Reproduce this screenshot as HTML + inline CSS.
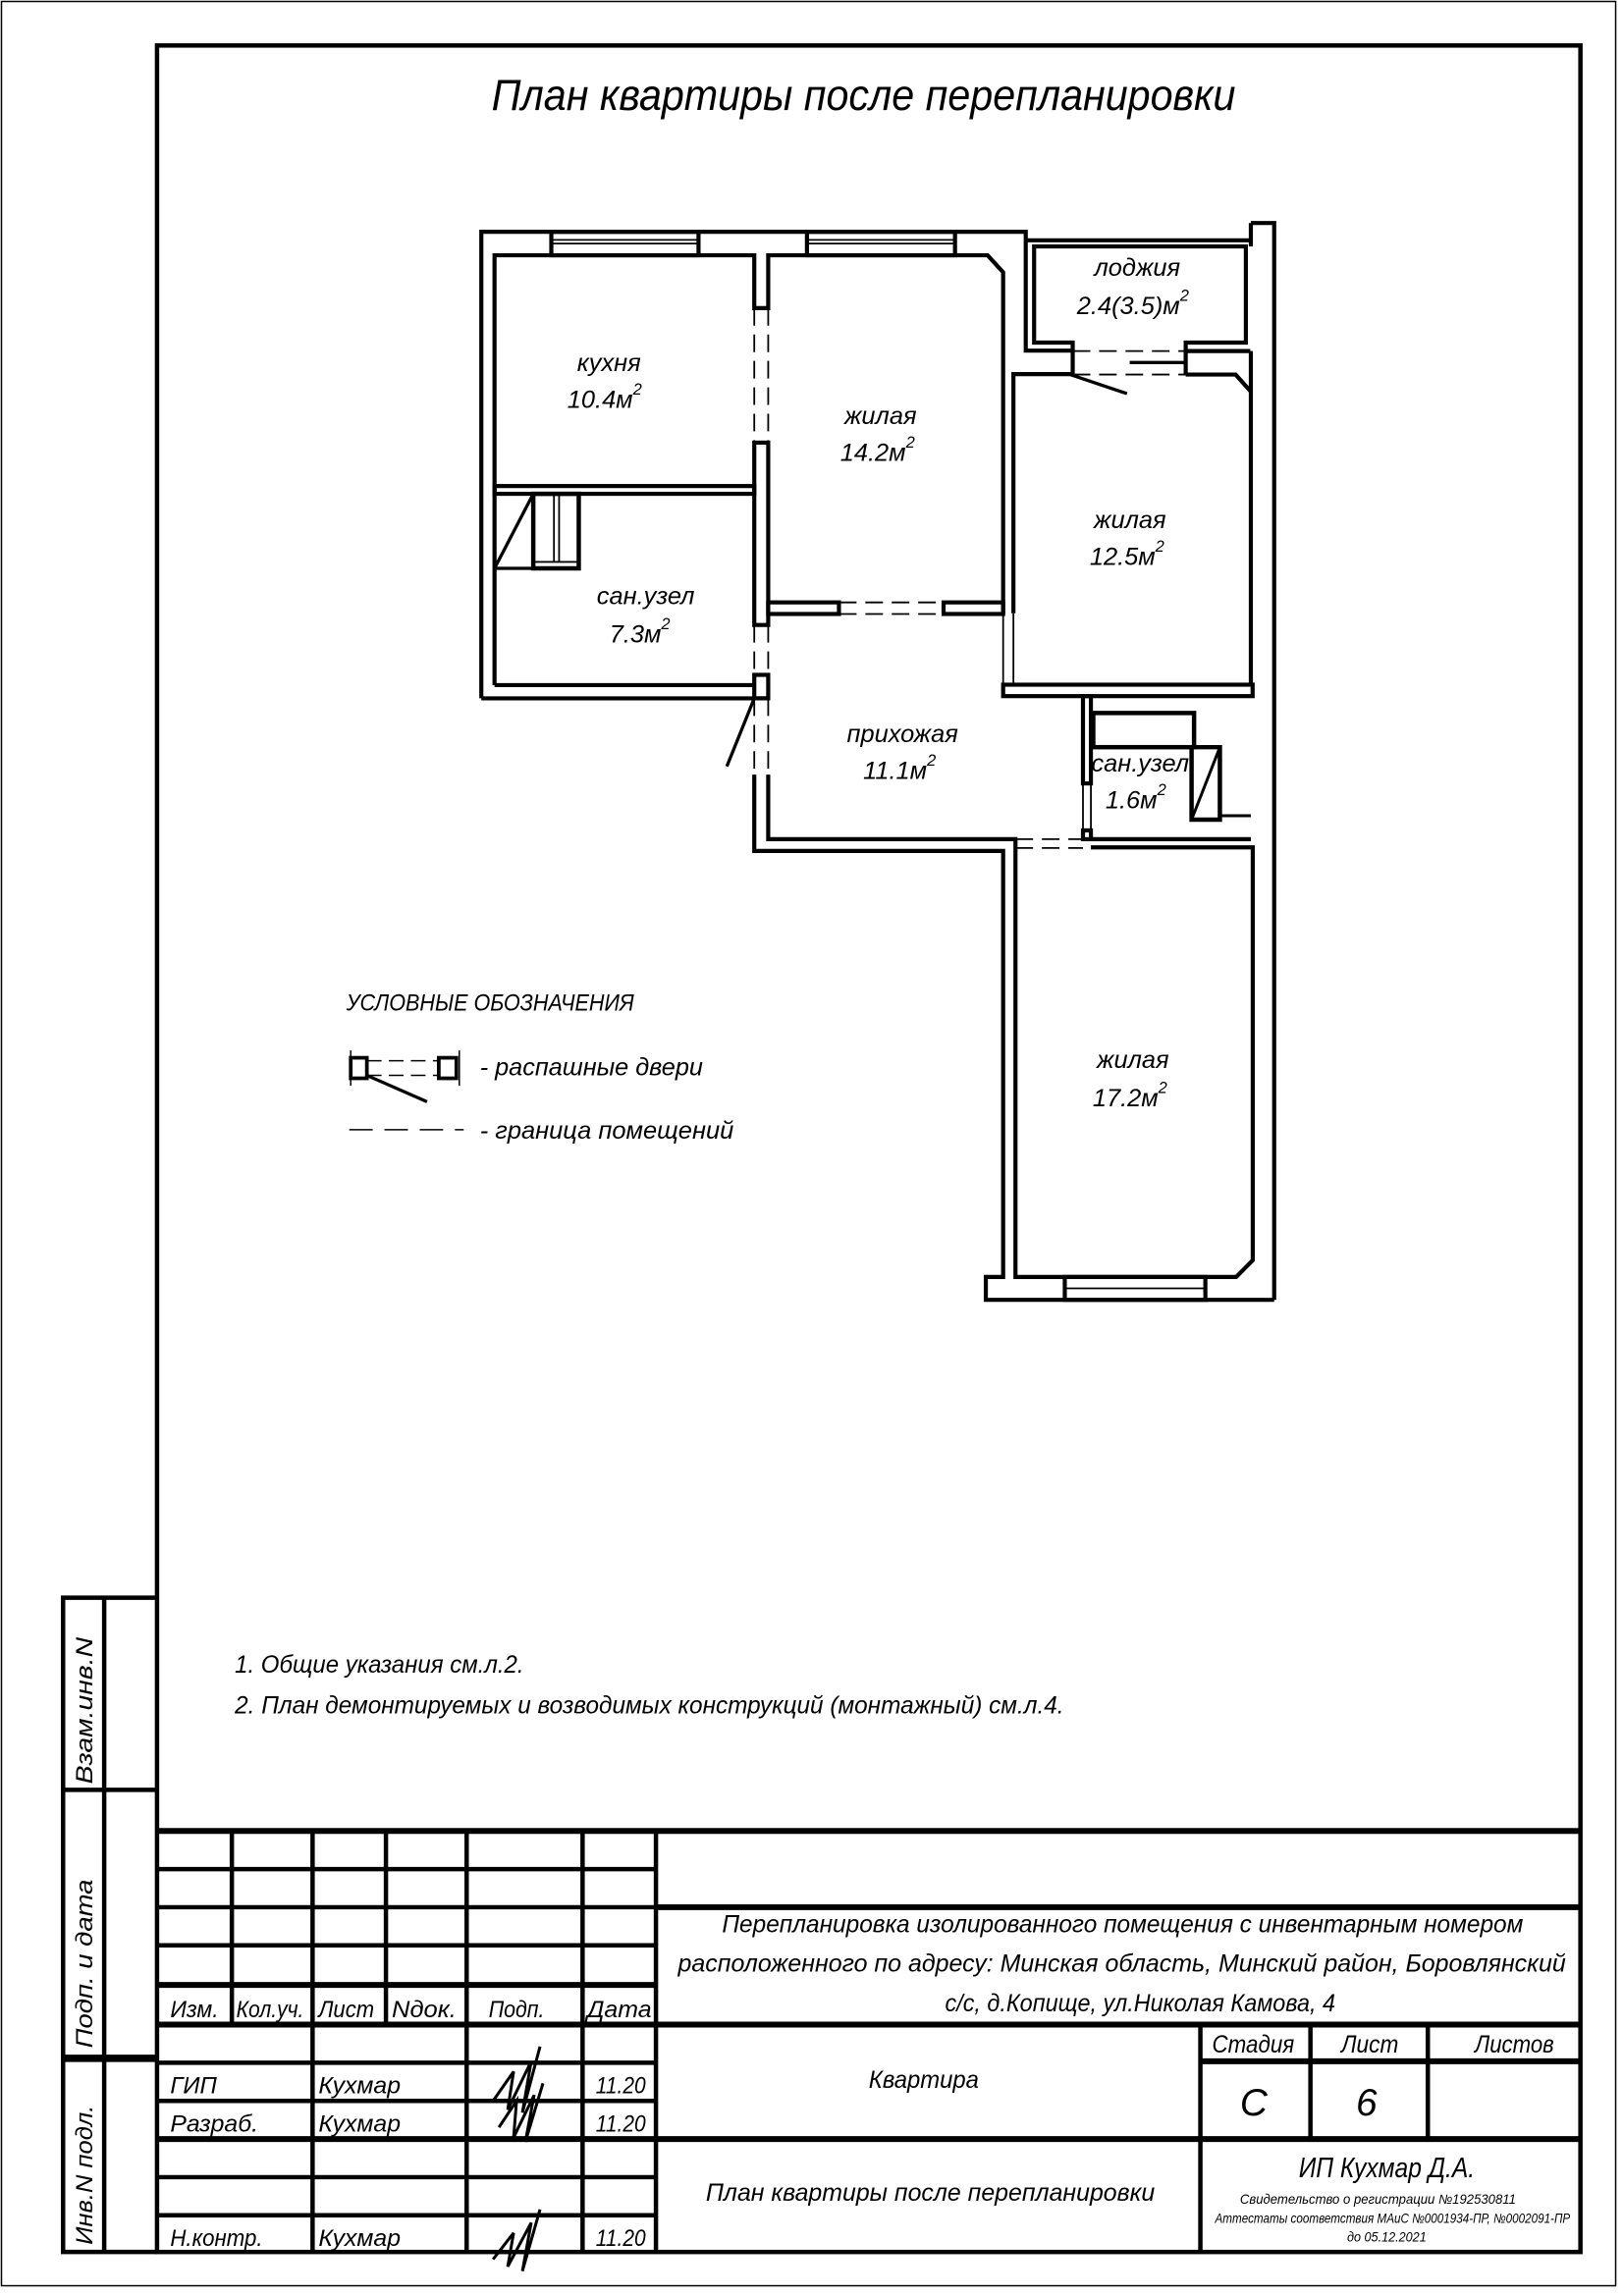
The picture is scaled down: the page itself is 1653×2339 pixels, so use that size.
<!DOCTYPE html>
<html><head><meta charset="utf-8"><style>
html,body{margin:0;padding:0;background:#fff}
svg{display:block}
text{font-family:"Liberation Sans Narrow","Liberation Sans","DejaVu Sans",sans-serif;font-style:italic;fill:#000}
</style></head><body>
<svg width="1653" height="2339" viewBox="0 0 1106 1565" preserveAspectRatio="none" xmlns="http://www.w3.org/2000/svg">
<rect x="0" y="0" width="1106" height="1565" fill="#fff"/>
<rect x="1" y="1" width="1100" height="1557" fill="none" stroke="#000" stroke-width="1"/>
<rect x="107" y="31" width="970" height="1504" fill="none" stroke="#000" stroke-width="3"/>
<g stroke="#000" stroke-width="3" fill="none">
<polyline points="107,1089 43,1089 43,1535 107,1535"/>
<line x1="71" y1="1089" x2="71" y2="1535"/>
<line x1="43" y1="1220" x2="107" y2="1220"/>
<line x1="43" y1="1403" x2="107" y2="1403" stroke-width="5"/>
</g>
<text transform="translate(63,1216) rotate(-90)" font-size="16" textLength="100" lengthAdjust="spacingAndGlyphs">Взам.инв.N</text>
<text transform="translate(63,1396) rotate(-90)" font-size="16" textLength="115" lengthAdjust="spacingAndGlyphs">Подп.  и  дата</text>
<text transform="translate(63,1530) rotate(-90)" font-size="16" textLength="95" lengthAdjust="spacingAndGlyphs">Инв.N подл.</text>

<text x="335" y="75" font-size="30" textLength="507" lengthAdjust="spacingAndGlyphs">План квартиры после перепланировки</text>

<g stroke="#000" stroke-width="2.8" fill="none" stroke-linejoin="miter">
<polyline points="328,476 328,158 699,158 699,239 731,239 731,255 690.6,255 690.6,418"/>
<polyline points="337,467 337,174 514,174 514,210 523.5,210 523.5,174 673,174 683.6,185.6 683.6,418"/>
<rect x="375.7" y="158" width="100.3" height="16"/>
<rect x="549.9" y="158" width="100.9" height="16"/>
</g>
<g stroke="#000" stroke-width="1.2">
<line x1="375.7" y1="163.5" x2="476" y2="163.5"/><line x1="375.7" y1="166" x2="476" y2="166"/>
<line x1="549.9" y1="163.5" x2="650.8" y2="163.5"/><line x1="549.9" y1="166" x2="650.8" y2="166"/>
</g>
<g stroke="#000" stroke-width="2.8" fill="none">
<polyline points="699,163.8 852,163.8"/>
<polyline points="731,239 731,233.5 704.7,233.5 704.7,168 849,168 849,233.5 808,233.5 808,255.3"/>
<polyline points="808,239.3 852,239.3"/>
<polyline points="852.4,152 868.3,152 868.3,886"/>
<polyline points="852.4,152 852.4,168"/>
<polyline points="852.4,239.3 852.4,466.7"/>
<polyline points="808,255.3 842,255.3 852.4,266.9"/>
<rect x="514" y="301.7" width="9.5" height="124.3"/>
<rect x="514" y="460" width="9.5" height="16"/>
<rect x="337" y="331.3" width="177" height="5.3"/>
<polyline points="337,467 514,467"/>
<polyline points="328,476 523.5,476"/>
<rect x="523.5" y="410.6" width="48.2" height="7.9"/>
<rect x="643" y="410.6" width="40.6" height="7.9"/>
<rect x="683.6" y="466.7" width="170" height="7.8"/>
<polyline points="523.5,528 523.5,572 692,572 692,870.4 842.4,870.4 853.7,859 853.7,577.6 743.4,577.6"/>
<polyline points="514,528 514,580 683.6,580 683.6,870.4 671.8,870.4 671.8,886 868.3,886"/>
<polyline points="743.4,572 852.4,572"/>
<rect x="738" y="474.5" width="5.4" height="59.5"/>
<rect x="738" y="566" width="5.4" height="6"/>
<rect x="725.6" y="870.4" width="95.8" height="15.6"/>
</g>
<g stroke="#000" stroke-width="1.2">
<line x1="725.6" y1="878.2" x2="821.4" y2="878.2"/>
<line x1="683.6" y1="418" x2="683.6" y2="467"/><line x1="690.6" y1="418" x2="690.6" y2="467"/>
<line x1="738" y1="534" x2="738" y2="566"/><line x1="743.4" y1="534" x2="743.4" y2="566"/>
</g>
<g stroke="#000" stroke-width="1.2" stroke-dasharray="12,6">
<line x1="514" y1="210" x2="514" y2="301.7"/><line x1="523.5" y1="210" x2="523.5" y2="301.7"/>
<line x1="514" y1="426" x2="514" y2="460"/><line x1="523.5" y1="426" x2="523.5" y2="460"/>
<line x1="514" y1="476" x2="514" y2="528"/><line x1="523.5" y1="476" x2="523.5" y2="528"/>
<line x1="571.7" y1="410.6" x2="643" y2="410.6"/><line x1="571.7" y1="418.5" x2="643" y2="418.5"/>
<line x1="731" y1="239.3" x2="808" y2="239.3"/><line x1="731" y1="255.3" x2="808" y2="255.3"/>
<line x1="692" y1="572" x2="738" y2="572"/><line x1="692" y1="578" x2="738" y2="578"/>
</g>
<g stroke="#000" stroke-width="2.2">
<line x1="514" y1="476" x2="495.3" y2="522.4"/>
<line x1="729.3" y1="255.3" x2="768" y2="268.3"/>
<line x1="769.8" y1="247.1" x2="808" y2="247.1"/>
</g>
<g stroke="#000" stroke-width="2.2" fill="none">
<rect x="337" y="336.6" width="26.4" height="50.8"/>
<line x1="337" y1="387.4" x2="363.4" y2="336.6"/>
<rect x="363.4" y="336.6" width="31" height="50.8" stroke-width="3"/>
<line x1="377.5" y1="336.6" x2="377.5" y2="383" stroke-width="1.2"/>
<line x1="381" y1="336.6" x2="381" y2="383" stroke-width="1.2"/>
<line x1="363.4" y1="383" x2="394.4" y2="383" stroke-width="1.2"/>
</g>
<g stroke="#000" stroke-width="3" fill="none">
<rect x="745" y="486" width="68.7" height="23.3"/>
<polyline points="812,509.3 831.3,509.3 831.3,558.7 812,558.7 812,509.3"/>
<line x1="812" y1="558.7" x2="831.3" y2="509.3" stroke-width="2"/>
<line x1="831.3" y1="556" x2="852.4" y2="556" stroke-width="2"/>
</g>

<g font-size="17" text-anchor="middle">
<text x="415" y="253">кухня</text><text x="412" y="278">10.4м<tspan font-size="11" dy="-9">2</tspan></text>
<text x="600" y="289">жилая</text><text x="598" y="314">14.2м<tspan font-size="11" dy="-9">2</tspan></text>
<text x="775" y="188">лоджия</text><text x="772" y="214">2.4(3.5)м<tspan font-size="11" dy="-9">2</tspan></text>
<text x="770" y="360">жилая</text><text x="768" y="385">12.5м<tspan font-size="11" dy="-9">2</tspan></text>
<text x="440" y="412">сан.узел</text><text x="436" y="438">7.3м<tspan font-size="11" dy="-9">2</tspan></text>
<text x="615" y="506">прихожая</text><text x="613" y="531">11.1м<tspan font-size="11" dy="-9">2</tspan></text>
<text x="777" y="526">сан.узел</text><text x="774" y="551">1.6м<tspan font-size="11" dy="-9">2</tspan></text>
<text x="772" y="728">жилая</text><text x="770" y="754">17.2м<tspan font-size="11" dy="-9">2</tspan></text>
</g>

<text x="236" y="689" font-size="16" textLength="196" lengthAdjust="spacingAndGlyphs">УСЛОВНЫЕ  ОБОЗНАЧЕНИЯ</text>
<g stroke="#000" fill="none">
<line x1="239" y1="716" x2="239" y2="740" stroke-width="1"/>
<line x1="313" y1="716" x2="313" y2="740" stroke-width="1"/>
<rect x="239" y="721" width="11" height="14" stroke-width="2.5"/>
<rect x="299" y="721" width="12" height="14" stroke-width="2.5"/>
<line x1="250" y1="723" x2="299" y2="723" stroke-width="1" stroke-dasharray="10,5"/>
<line x1="250" y1="733" x2="299" y2="733" stroke-width="1" stroke-dasharray="10,5"/>
<line x1="250" y1="733" x2="291" y2="751" stroke-width="2.2"/>
<line x1="238" y1="770" x2="316" y2="770" stroke-width="1" stroke-dasharray="16,8"/>
</g>
<text x="327" y="733" font-size="17" textLength="152" lengthAdjust="spacingAndGlyphs">-  распашные  двери</text>
<text x="327" y="776" font-size="17" textLength="173" lengthAdjust="spacingAndGlyphs">-  граница  помещений</text>

<text x="160" y="1140" font-size="17" textLength="197" lengthAdjust="spacingAndGlyphs">1.  Общие  указания  см.л.2.</text>
<text x="160" y="1168" font-size="17" textLength="565" lengthAdjust="spacingAndGlyphs">2.  План  демонтируемых  и  возводимых  конструкций  (монтажный)  см.л.4.</text>

<g stroke="#000" stroke-width="3" fill="none">
<line x1="107" y1="1248" x2="1077" y2="1248" stroke-width="4"/>
<line x1="158" y1="1248" x2="158" y2="1381"/>
<line x1="213" y1="1248" x2="213" y2="1535"/>
<line x1="263" y1="1248" x2="263" y2="1381"/>
<line x1="318" y1="1248" x2="318" y2="1535"/>
<line x1="397" y1="1248" x2="397" y2="1535"/>
<line x1="447" y1="1248" x2="447" y2="1535"/>
<line x1="107" y1="1274" x2="447" y2="1274"/>
<line x1="107" y1="1300" x2="447" y2="1300"/>
<line x1="107" y1="1326" x2="447" y2="1326"/>
<line x1="107" y1="1353" x2="447" y2="1353" stroke-width="4"/>
<line x1="107" y1="1380" x2="1077" y2="1380" stroke-width="4"/>
<line x1="107" y1="1406" x2="447" y2="1406"/>
<line x1="107" y1="1432" x2="447" y2="1432"/>
<line x1="107" y1="1458" x2="1077" y2="1458" stroke-width="4"/>
<line x1="107" y1="1484" x2="447" y2="1484"/>
<line x1="107" y1="1510" x2="447" y2="1510"/>
<line x1="447" y1="1300" x2="1077" y2="1300" stroke-width="4"/>
<line x1="818" y1="1380" x2="818" y2="1535"/>
<line x1="893" y1="1380" x2="893" y2="1458"/>
<line x1="973" y1="1380" x2="973" y2="1458"/>
<line x1="818" y1="1405" x2="1077" y2="1405" stroke-width="4"/>
</g>
<g font-size="16">
<text x="116" y="1375" textLength="33" lengthAdjust="spacingAndGlyphs">Изм.</text>
<text x="161" y="1375" textLength="46" lengthAdjust="spacingAndGlyphs">Кол.уч.</text>
<text x="217" y="1375" textLength="38" lengthAdjust="spacingAndGlyphs">Лист</text>
<text x="267" y="1375" textLength="44" lengthAdjust="spacingAndGlyphs">Nдок.</text>
<text x="333" y="1375" textLength="38" lengthAdjust="spacingAndGlyphs">Подп.</text>
<text x="400" y="1375" textLength="44" lengthAdjust="spacingAndGlyphs">Дата</text>
<text x="116" y="1427">ГИП</text><text x="217" y="1427" textLength="56" lengthAdjust="spacingAndGlyphs">Кухмар</text><text x="406" y="1427" textLength="34" lengthAdjust="spacingAndGlyphs">11.20</text>
<text x="116" y="1453" textLength="60" lengthAdjust="spacingAndGlyphs">Разраб.</text><text x="217" y="1453" textLength="56" lengthAdjust="spacingAndGlyphs">Кухмар</text><text x="406" y="1453" textLength="34" lengthAdjust="spacingAndGlyphs">11.20</text>
<text x="116" y="1531" textLength="63" lengthAdjust="spacingAndGlyphs">Н.контр.</text><text x="217" y="1531" textLength="56" lengthAdjust="spacingAndGlyphs">Кухмар</text><text x="406" y="1531" textLength="34" lengthAdjust="spacingAndGlyphs">11.20</text>
</g>
<g stroke="#000" stroke-width="2" fill="none">
<path d="M336,1432 L350,1412 L346,1438 L362,1405 L356,1440 L368,1395 M340,1450 L352,1432 L350,1457 L364,1428 L358,1460 L370,1420"/>
<path d="M336,1540 L350,1522 L346,1545 L362,1515 L356,1548 L368,1506"/>
</g>
<g font-size="17">
<text x="492" y="1317" textLength="546" lengthAdjust="spacingAndGlyphs">Перепланировка  изолированного  помещения  с  инвентарным  номером</text>
<text x="462" y="1344" textLength="605" lengthAdjust="spacingAndGlyphs">расположенного  по  адресу:  Минская  область,  Минский  район,  Боровлянский</text>
<text x="644" y="1371" textLength="266" lengthAdjust="spacingAndGlyphs">с/с,  д.Копище,  ул.Николая  Камова,  4</text>
<text x="592" y="1423" textLength="75" lengthAdjust="spacingAndGlyphs">Квартира</text>
<text x="481" y="1500" textLength="306" lengthAdjust="spacingAndGlyphs">План  квартиры  после  перепланировки</text>
<text x="826" y="1399" textLength="56" lengthAdjust="spacingAndGlyphs">Стадия</text>
<text x="914" y="1399" textLength="39" lengthAdjust="spacingAndGlyphs">Лист</text>
<text x="1005" y="1399" textLength="54" lengthAdjust="spacingAndGlyphs">Листов</text>
<text x="845" y="1442" font-size="26">С</text>
<text x="924" y="1442" font-size="26">6</text>
<text x="885" y="1484" font-size="19" textLength="120" lengthAdjust="spacingAndGlyphs">ИП  Кухмар  Д.А.</text>
<text x="845" y="1502" font-size="9" textLength="188" lengthAdjust="spacingAndGlyphs">Свидетельство  о  регистрации  №192530811</text>
<text x="828" y="1515" font-size="9" textLength="242" lengthAdjust="spacingAndGlyphs">Аттестаты  соответствия  МАиС  №0001934-ПР,  №0002091-ПР</text>
<text x="918" y="1528" font-size="9" textLength="54" lengthAdjust="spacingAndGlyphs">до  05.12.2021</text>
</g>
</svg>
</body></html>
